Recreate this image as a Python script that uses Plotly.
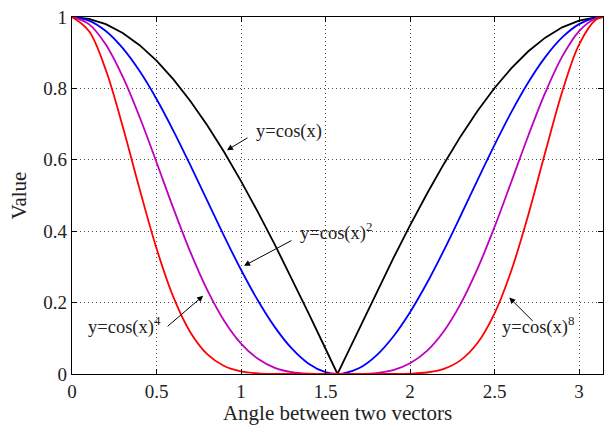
import plotly.graph_objects as go

angle = [0.0, 0.1, 0.2, 0.3, 0.4, 0.5, 0.6, 0.7, 0.8, 0.9, 1.0, 1.1, 1.2, 1.3, 1.4, 1.5,
         1.5708, 1.6, 1.7, 1.8, 1.9, 2.0, 2.1, 2.2, 2.3, 2.4, 2.5, 2.6, 2.7, 2.8, 2.9,
         3.0, 3.1, 3.1416]
cos1 = [1.0, 0.9950, 0.9801, 0.9553, 0.9211, 0.8776, 0.8253, 0.7648, 0.6967, 0.6216,
        0.5403, 0.4536, 0.3624, 0.2675, 0.1700, 0.0707, 0.0, 0.0292, 0.1288, 0.2272,
        0.3233, 0.4161, 0.5048, 0.5885, 0.6663, 0.7374, 0.8011, 0.8569, 0.9041, 0.9422,
        0.9710, 0.9900, 0.9991, 1.0]
cos2 = [1.0, 0.9900, 0.9606, 0.9126, 0.8484, 0.7702, 0.6811, 0.5849, 0.4854, 0.3864,
        0.2919, 0.2058, 0.1313, 0.0716, 0.0289, 0.0050, 0.0, 0.0009, 0.0166, 0.0516,
        0.1045, 0.1732, 0.2548, 0.3463, 0.4440, 0.5438, 0.6418, 0.7343, 0.8174, 0.8877,
        0.9428, 0.9801, 0.9982, 1.0]
cos4 = [1.0, 0.9801, 0.9228, 0.8328, 0.7198, 0.5932, 0.4639, 0.3421, 0.2356, 0.1493,
        0.0852, 0.0424, 0.0172, 0.0051, 0.0008, 0.0000, 0.0, 0.0, 0.0003, 0.0027,
        0.0109, 0.0300, 0.0649, 0.1199, 0.1971, 0.2957, 0.4119, 0.5392, 0.6681, 0.7880,
        0.8889, 0.9606, 0.9964, 1.0]
cos8 = [1.0, 0.9606, 0.8516, 0.6936, 0.5181, 0.3519, 0.2152, 0.1170, 0.0555, 0.0223,
        0.0073, 0.0018, 0.0003, 0.0000, 0.0, 0.0, 0.0, 0.0, 0.0, 0.0000,
        0.0001, 0.0009, 0.0042, 0.0144, 0.0388, 0.0874, 0.1697, 0.2907, 0.4464, 0.6209,
        0.7901, 0.9228, 0.9928, 1.0]

series = [
    (cos1, "#000000", "linear"),
    (cos2, "#0000FF", "spline"),
    (cos4, "#BF00BF", "spline"),
    (cos8, "#FF0000", "spline"),
]

x_ticks = [0, 0.5, 1, 1.5, 2, 2.5, 3]
y_ticks = [0, 0.2, 0.4, 0.6, 0.8, 1]

# label text, label position, arrow tail, arrow head
labels = [
    ("y=cos(x)", (1.08, 0.68), (1.047, 0.664), (0.917, 0.627)),
    ("y=cos(x)<sup>2</sup>", (1.342, 0.40), (1.307, 0.376), (1.018, 0.303)),
    ("y=cos(x)<sup>4</sup>", (0.086, 0.135), (0.557, 0.130), (0.776, 0.219)),
    ("y=cos(x)<sup>8</sup>", (2.54, 0.135), (2.735, 0.144), (2.587, 0.214)),
]

FONT = "Liberation Serif, Times New Roman, serif"

fig = go.Figure()
for ys, color, shape in series:
    fig.add_trace(go.Scatter(x=angle, y=ys, mode="lines",
                             line=dict(color=color, width=1.8, shape=shape),
                             showlegend=False))

for text, (tx, ty), (ax, ay), (hx, hy) in labels:
    fig.add_annotation(x=tx, y=ty, xref="x", yref="y", text=text, showarrow=False,
                       xanchor="left", yanchor="middle", borderpad=0,
                       font=dict(family=FONT, size=18.5, color="#222"))
    fig.add_annotation(x=hx, y=hy, ax=ax, ay=ay, xref="x", yref="y", axref="x", ayref="y",
                       text="", showarrow=True, arrowhead=2, arrowsize=1.2,
                       arrowwidth=1, arrowcolor="#000")

axis_common = dict(
    showline=True, linecolor="#000", linewidth=1.2, mirror="ticks",
    ticks="inside", ticklen=5, tickcolor="#000", tickwidth=1,
    showgrid=True, gridcolor="rgba(0,0,0,0.7)", griddash="1px,3px", gridwidth=1,
    zeroline=False, tickfont=dict(family=FONT, size=19, color="#222"),
)

fig.update_xaxes(range=[0, 3.1416], tickvals=x_ticks,
                 ticktext=[f"{v:g}" for v in x_ticks],
                 title=dict(text="Angle between two vectors",
                            font=dict(family=FONT, size=21, color="#222"), standoff=5),
                 **axis_common)
fig.update_yaxes(range=[0, 1], tickvals=y_ticks,
                 ticktext=[f"{v:g}" for v in y_ticks],
                 title=dict(text="Value",
                            font=dict(family=FONT, size=21, color="#222"), standoff=10),
                 **axis_common)

fig.update_layout(width=609, height=425,
                  margin=dict(l=72, r=6, t=17, b=51, autoexpand=False),
                  paper_bgcolor="white", plot_bgcolor="white")

fig.write_html("out.html")
